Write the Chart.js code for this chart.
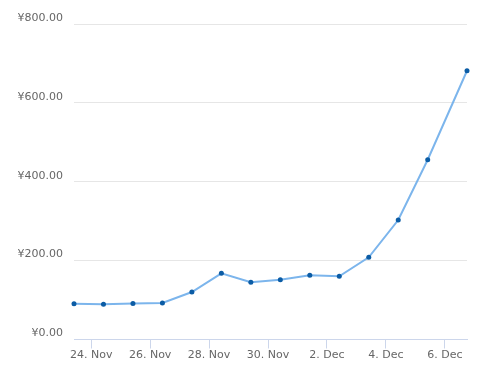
<!DOCTYPE html>
<html lang="en">
<head>
    <meta charset="UTF-8">
    <title>Price chart</title>
    <script src="https://cdnjs.cloudflare.com/ajax/libs/Chart.js/4.4.8/chart.umd.min.js"></script>
    <style>
        html, body { margin: 0; padding: 0; background: #fff; }
        #wrap { width: 485px; height: 372px; }
    </style>
</head>
<body>
    <div id="wrap"><canvas id="chart"></canvas></div>

    <script>
        // data
        const pointDates = [
            '2023-11-23T10:00', '2023-11-24T10:00', '2023-11-25T10:00', '2023-11-26T10:00',
            '2023-11-27T10:00', '2023-11-28T10:00', '2023-11-29T10:00', '2023-11-30T10:00',
            '2023-12-01T10:00', '2023-12-02T10:00', '2023-12-03T10:00', '2023-12-04T10:00',
            '2023-12-05T10:00', '2023-12-06T18:00'
        ];
        const prices = [90.8, 89.2, 91, 92.5, 120.4, 167.8, 145, 151.6, 162.7, 160.2, 208.4, 303, 455.9, 681.5];
        const tickLabels = ['24. Nov', '26. Nov', '28. Nov', '30. Nov', '2. Dec', '4. Dec', '6. Dec'];
        const yTicks = [0, 200, 400, 600, 800];

        const base = new Date('2023-11-24T00:00').getTime();
        const dayMs = 24 * 3600 * 1000;
        const xs = pointDates.map(d => (new Date(d).getTime() - base) / dayMs);

        const font = { family: '"DejaVu Sans", Verdana, sans-serif', size: 11 };

        new Chart(document.getElementById('chart'), {
            type: 'line',
            data: {
                datasets: [{
                    data: xs.map((x, i) => ({ x: x, y: prices[i] })),
                    borderColor: '#7cb5ec',
                    borderWidth: 2,
                    pointBackgroundColor: '#0b5ca5',
                    pointBorderColor: '#0b5ca5',
                    pointRadius: 2.5,
                    pointBorderWidth: 0,
                    tension: 0,
                    clip: false
                }]
            },
            options: {
                responsive: true,
                maintainAspectRatio: false,
                animation: false,
                layout: { padding: { top: 24, right: 18, left: 0, bottom: 0 } },
                plugins: { legend: { display: false }, tooltip: { enabled: false } },
                scales: {
                    x: {
                        type: 'linear',
                        min: xs[0],
                        max: xs[xs.length - 1],
                        grid: { drawOnChartArea: false, drawTicks: true, tickLength: 9, color: '#ccd6eb' },
                        border: { color: '#ccd6eb' },
                        ticks: {
                            stepSize: 2,
                            includeBounds: false,
                            autoSkip: false,
                            maxRotation: 0,
                            color: '#666666',
                            font: font,
                            padding: 0,
                            callback: v => tickLabels[Math.round(v / 2)]
                        },
                        afterFit: s => { s.height = 32.5; }
                    },
                    y: {
                        min: 0,
                        max: 800,
                        afterBuildTicks: s => { s.ticks = yTicks.map(v => ({ value: v })); },
                        grid: { color: '#e6e6e6', drawTicks: false },
                        border: { display: false },
                        ticks: {
                            color: '#666666',
                            font: font,
                            padding: 11,
                            labelOffset: -6,
                            callback: v => '¥' + v.toFixed(2)
                        },
                        afterFit: s => { s.width = 74; }
                    }
                }
            }
        });
    </script>
</body>
</html>
